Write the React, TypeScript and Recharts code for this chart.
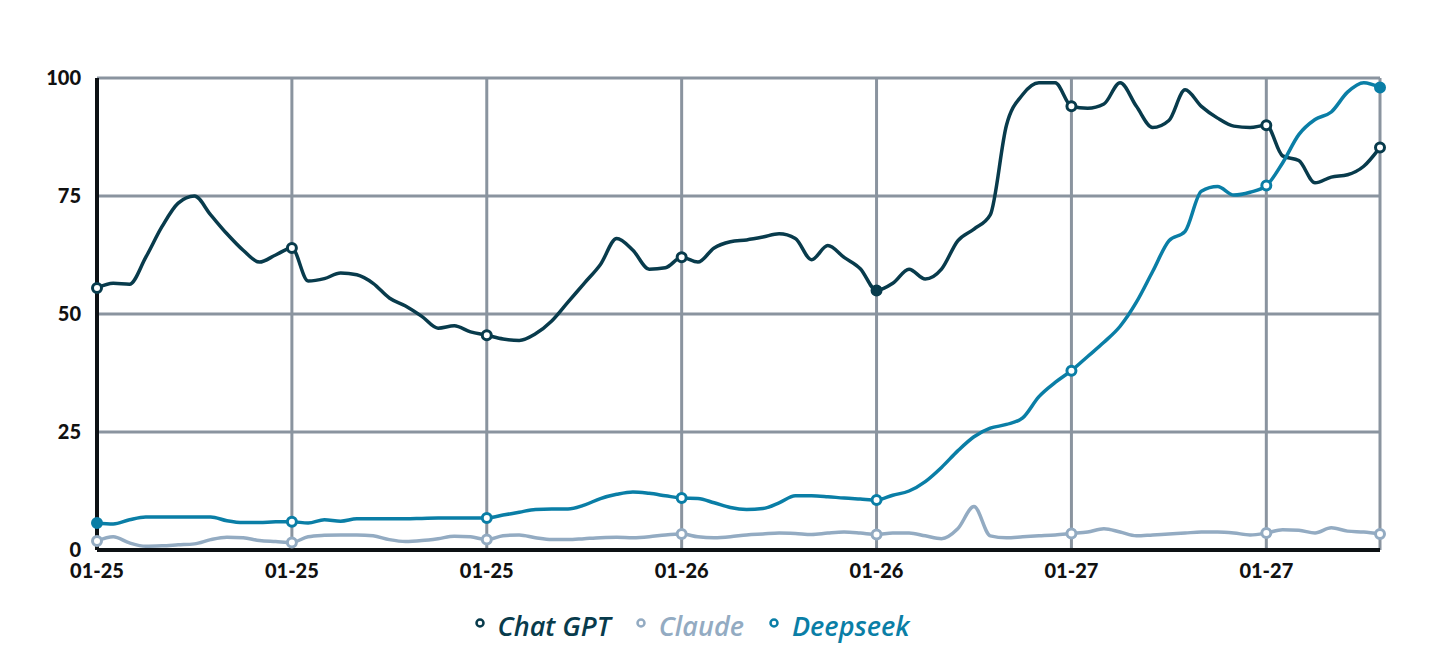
import { CartesianGrid, Legend, Line, LineChart, XAxis, YAxis } from "recharts";

// hourly samples over ~3.3 days, labelled every 12 points
const tickIndex = [0, 12, 24, 36, 48, 60, 72];
const tickLabels = ["01-25", "01-25", "01-25", "01-26", "01-26", "01-27", "01-27"];
const markerIndex = [0, 12, 24, 36, 48, 60, 72, 79];

const chatGpt = [
  55.5, 56.5, 56.3, 62, 68.5, 73.5, 75, 71, 67, 63.5, 61, 62.5, 64, 57, 57.5, 58.7,
  58.3, 56.5, 53.4, 51.7, 49.5, 47, 47.5, 46.2, 45.5, 44.7, 44.4, 45.8, 48.5, 52.5,
  56.5, 60.5, 66, 63.5, 59.5, 59.8, 62, 61, 64, 65.3, 65.7, 66.3, 67, 66, 61.5, 64.5,
  62, 59.6, 55, 56.5, 59.5, 57.4, 59.5, 65.5, 68, 71, 90, 96.5, 99, 99, 94, 93.6,
  94.5, 99, 94, 89.5, 91, 97.5, 94, 91.5, 89.8, 89.5, 90, 83.5, 82.5, 77.8, 79, 79.5,
  81.3, 85.3,
];

const claude = [
  1.9, 2.8, 1.5, 0.8, 0.9, 1.1, 1.3, 2.2, 2.7, 2.6, 2.0, 1.8, 1.6, 2.8, 3.1, 3.2,
  3.2, 3.0, 2.2, 1.8, 2.0, 2.4, 2.9, 2.8, 2.2, 3.0, 3.2, 2.6, 2.2, 2.2, 2.4, 2.6,
  2.7, 2.6, 2.8, 3.2, 3.4, 2.8, 2.6, 2.8, 3.2, 3.4, 3.6, 3.5, 3.3, 3.6, 3.8, 3.6,
  3.3, 3.6, 3.6, 3.0, 2.4, 4.5, 9.2, 3.0, 2.6, 2.8, 3.0, 3.2, 3.5, 3.8, 4.5, 3.8,
  3.0, 3.2, 3.4, 3.6, 3.8, 3.8, 3.6, 3.2, 3.6, 4.3, 4.2, 3.6, 4.7, 4.0, 3.8, 3.4,
];

const deepseek = [
  5.7, 5.5, 6.4, 7, 7, 7, 7, 7, 6.2, 5.8, 5.8, 6, 6, 5.7, 6.4, 6.1, 6.6, 6.6, 6.6,
  6.6, 6.7, 6.8, 6.8, 6.8, 6.8, 7.4, 8, 8.6, 8.7, 8.7, 9.5, 10.9, 11.8, 12.3, 12,
  11.5, 11, 10.9, 10, 9, 8.6, 8.8, 10, 11.5, 11.5, 11.3, 11, 10.8, 10.6, 11.6, 12.5,
  14.5, 17.5, 21, 24, 25.8, 26.6, 28, 32.5, 35.5, 38, 41, 44, 47.4, 52.5, 59, 65.5,
  67.5, 76, 77, 75.2, 75.8, 77.2, 82, 88, 91.2, 92.8, 97, 99, 98,
];

const series = [
  { key: "chatGpt", name: "Chat GPT", color: "#083b4c", filled: [48] },
  { key: "claude", name: "Claude", color: "#93abc2", filled: [] as number[] },
  { key: "deepseek", name: "Deepseek", color: "#0a7ea6", filled: [0, 79] },
];

const data = chatGpt.map((v, i) => ({
  i,
  chatGpt: v,
  claude: claude[i],
  deepseek: deepseek[i],
}));

const gridColor = "#8a949f";
const axisColor = "#0d1114";
const tickFont = {
  fontFamily: "Lato, Inter, sans-serif",
  fontWeight: 900,
  fontSize: 20,
  fill: "#111",
};

function makeDot(color: string, filled: number[]) {
  return (props: any) => {
    const { cx, cy, index } = props;
    if (!markerIndex.includes(index)) return <g key={`d-${index}`} />;
    return (
      <circle
        key={`d-${index}`}
        cx={cx}
        cy={cy}
        r={4.5}
        stroke={color}
        strokeWidth={3}
        fill={filled.includes(index) ? color : "#fff"}
      />
    );
  };
}

function LegendRow() {
  return (
    <div
      style={{
        height: 40,
        display: "flex",
        justifyContent: "center",
        alignItems: "center",
        gap: 22,
        paddingRight: 40,
        fontFamily: "'Open Sans', Lato, sans-serif",
        fontStyle: "italic",
        fontWeight: 600,
        fontSize: 27,
      }}
    >
      {series.map((s) => (
        <div key={s.key} style={{ display: "flex", alignItems: "center", color: s.color }}>
          <svg width={26} height={16}>
            <circle cx={8} cy={6} r={3.5} fill="#fff" stroke={s.color} strokeWidth={2.5} />
          </svg>
          <span>{s.name}</span>
        </div>
      ))}
    </div>
  );
}

export default function App() {
  return (
    <LineChart
      width={1440}
      height={650}
      data={data}
      margin={{ top: 70, right: 68, bottom: 13, left: 33 }}
    >
      <CartesianGrid stroke={gridColor} strokeWidth={3} />
      <XAxis
        dataKey="i"
        type="number"
        domain={[0, 79]}
        ticks={tickIndex}
        tickFormatter={(v: number) => tickLabels[tickIndex.indexOf(v)] ?? ""}
        height={55}
        tickSize={0}
        tickMargin={14}
        tick={tickFont}
        axisLine={{ stroke: axisColor, strokeWidth: 4 }}
      />
      <YAxis
        domain={[0, 100]}
        ticks={[0, 25, 50, 75, 100]}
        width={56}
        tickSize={0}
        tickMargin={16}
        tick={tickFont}
        axisLine={{ stroke: axisColor, strokeWidth: 4 }}
      />
      <Legend verticalAlign="bottom" content={() => <LegendRow />} />
      {series.map((s) => (
        <Line
          key={s.key}
          type="monotone"
          dataKey={s.key}
          name={s.name}
          stroke={s.color}
          strokeWidth={3.5}
          dot={makeDot(s.color, s.filled)}
          activeDot={false}
          isAnimationActive={false}
        />
      ))}
    </LineChart>
  );
}
